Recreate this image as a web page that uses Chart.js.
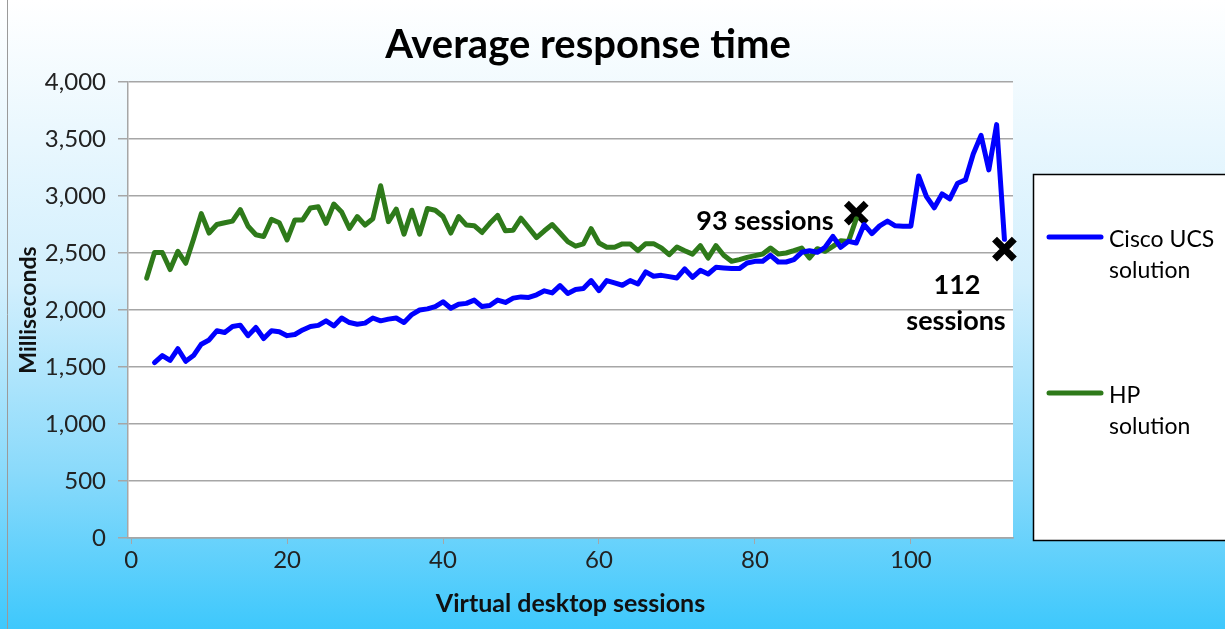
<!DOCTYPE html>
<html>
<head>
<meta charset="utf-8">
<script src="https://cdn.jsdelivr.net/npm/chart.js@4.4.0/dist/chart.umd.min.js"></script>
<style>
  html, body { margin: 0; padding: 0; }
  body {
    width: 1225px; height: 629px; overflow: hidden;
    background: linear-gradient(to bottom, #ffffff 0%, #d2effd 45%, #8adafb 75%, #3ec8fc 100%);
  }
  #wrap { position: relative; width: 1225px; height: 629px; }
</style>
</head>
<body>
<div id="wrap"><canvas id="chartLine"></canvas></div>
<script>
// Cisco UCS: sessions 3..112, HP: sessions 2..93
const ciscoStart = 3;
const ciscoValues = [
  1538, 1600, 1558, 1660, 1550, 1600, 1700, 1737, 1818, 1803,
  1855, 1867, 1775, 1847, 1750, 1818, 1810, 1775, 1785, 1825,
  1855, 1865, 1905, 1860, 1930, 1890, 1875, 1885, 1930, 1905,
  1920, 1930, 1890, 1960, 2000, 2010, 2030, 2072, 2015, 2050,
  2058, 2087, 2030, 2040, 2087, 2066, 2104, 2115, 2110, 2133,
  2168, 2150, 2214, 2145, 2180, 2188, 2258, 2170, 2258, 2237,
  2217, 2258, 2228, 2334, 2296, 2304, 2293, 2281, 2360, 2287,
  2348, 2316, 2374, 2368, 2363, 2363, 2412, 2427, 2427, 2480,
  2421, 2421, 2442, 2506, 2520, 2506, 2550, 2646, 2550, 2602,
  2588, 2750, 2670, 2738, 2780, 2738, 2735, 2735, 3176, 2994,
  2897, 3018, 2974, 3112, 3141, 3368, 3532, 3229, 3626, 2620
];
const hpStart = 2;
const hpValues = [
  2280, 2505, 2505, 2355, 2515, 2410, 2620, 2845, 2675, 2750,
  2765, 2780, 2880, 2735, 2660, 2645, 2795, 2765, 2615, 2790,
  2790, 2895, 2905, 2760, 2930, 2860, 2715, 2820, 2745, 2800,
  3090, 2775, 2885, 2665, 2875, 2665, 2890, 2875, 2820, 2675,
  2820, 2745, 2740, 2680, 2760, 2830, 2695, 2700, 2805, 2720,
  2635, 2695, 2750, 2675, 2600, 2560, 2580, 2713, 2588, 2550,
  2550, 2580, 2580, 2520, 2582, 2582, 2545, 2485, 2553, 2520,
  2490, 2565, 2456, 2565, 2480, 2427, 2442, 2462, 2477, 2491,
  2544, 2491, 2500, 2520, 2544, 2456, 2538, 2515, 2558, 2608,
  2602, 2800
];
const limitSessions = [93, 112];
const limitValues = [2850, 2535];
const limitLabels = [["93 sessions"], ["112", "sessions"]];
const xTicks = [0, 20, 40, 60, 80, 100];
const yTicks = [0, 500, 1000, 1500, 2000, 2500, 3000, 3500, 4000];
const seriesNames = [["Cisco UCS", "solution"], ["HP", "solution"]];
const seriesColors = ["#0000ff", "#2e7a1a"];

const toPoints = (start, vals) => vals.map((v, i) => ({ x: start + i, y: v }));

Chart.defaults.font.family = "Lato";

const extras = {
  id: "extras",
  beforeDraw(chart) {
    const { ctx, chartArea: a } = chart;
    ctx.save();
    ctx.fillStyle = "#ffffff";
    ctx.fillRect(a.left, a.top, a.right - a.left, a.bottom - a.top);
    ctx.strokeStyle = "#9a9a9a";
    ctx.lineWidth = 1;
    ctx.beginPath();
    ctx.moveTo(7.5, 0);
    ctx.lineTo(7.5, 629);
    ctx.stroke();
    ctx.restore();
  },
  afterDraw(chart) {
    const { ctx } = chart;
    ctx.save();
    // title
    ctx.fillStyle = "#000";
    ctx.textAlign = "center";
    ctx.textBaseline = "middle";
    ctx.font = "bold 40px Lato";
    ctx.fillText("Average response time", 588, 45);

    // legend
    ctx.fillStyle = "#ffffff";
    ctx.fillRect(1033, 174, 200, 366);
    ctx.strokeStyle = "#000";
    ctx.lineWidth = 1.5;
    ctx.strokeRect(1033.5, 174.5, 200, 366);
    const rows = [237, 393];
    ctx.font = "23px Lato";
    ctx.textAlign = "left";
    seriesNames.forEach((lines, i) => {
      ctx.strokeStyle = seriesColors[i];
      ctx.lineWidth = 5;
      ctx.lineCap = "round";
      ctx.beginPath();
      ctx.moveTo(1049, rows[i]);
      ctx.lineTo(1101, rows[i]);
      ctx.stroke();
      ctx.fillStyle = "#000";
      lines.forEach((t, j) => ctx.fillText(t, 1109, rows[i] + 3 + j * 31));
    });

    // limit labels
    ctx.font = "bold 27px Lato";
    ctx.textAlign = "center";
    ctx.fillText(limitLabels[0][0], 765, 221);
    ctx.fillText(limitLabels[1][0], 957, 285);
    ctx.fillText(limitLabels[1][1], 956, 321);
    ctx.restore();
  }
};

const chartLine = new Chart("chartLine", {
  type: "line",
  data: {
    datasets: [
      {
        label: "Cisco UCS solution",
        data: toPoints(ciscoStart, ciscoValues),
        borderColor: seriesColors[0],
        borderWidth: 5,
        borderJoinStyle: "round",
        borderCapStyle: "round",
        pointRadius: 0,
        tension: 0,
      },
      {
        label: "HP solution",
        data: toPoints(hpStart, hpValues),
        borderColor: seriesColors[1],
        borderWidth: 5,
        borderJoinStyle: "round",
        borderCapStyle: "round",
        pointRadius: 0,
        tension: 0,
      },
      {
        label: "limit",
        data: limitSessions.map((s, i) => ({ x: s, y: limitValues[i] })),
        showLine: false,
        pointStyle: "crossRot",
        pointRadius: 14,
        pointBorderWidth: 7,
        pointBorderColor: "#000",
        borderColor: "#000",
        clip: false,
      },
    ],
  },
  options: {
    responsive: true,
    maintainAspectRatio: false,
    animation: false,
    layout: { padding: { top: 82, right: 212, left: 0, bottom: 0 } },
    plugins: {
      legend: { display: false },
      tooltip: { enabled: false },
    },
    scales: {
      x: {
        type: "linear",
        min: -0.4,
        max: 113.1,
        afterBuildTicks: (s) => { s.ticks = xTicks.map((v) => ({ value: v })); },
        afterFit: (s) => { s.height = 91; },
        grid: { drawOnChartArea: false, drawTicks: true, tickLength: 6, color: "#a6a6a6" },
        border: { color: "#a6a6a6", width: 1.5 },
        ticks: { color: "#222", font: { size: 24 }, padding: 2, maxRotation: 0 },
        title: {
          display: true,
          text: "Virtual desktop sessions",
          color: "#111",
          font: { size: 25, weight: "bold" },
          padding: { top: 4, bottom: 10 },
        },
      },
      y: {
        min: 0,
        max: 4000,
        afterBuildTicks: (s) => { s.ticks = yTicks.map((v) => ({ value: v })); },
        afterFit: (s) => { s.width = 128; },
        grid: { color: "#a6a6a6", lineWidth: 1.5, tickLength: 10 },
        border: { color: "#a6a6a6", width: 1.5 },
        ticks: { color: "#222", font: { size: 24 }, padding: 12 },
        title: {
          display: true,
          text: "Milliseconds",
          color: "#111",
          font: { size: 23, weight: "bold" },
          padding: { top: 15, bottom: 0 },
        },
      },
    },
  },
  plugins: [extras],
});
</script>
</body>
</html>
